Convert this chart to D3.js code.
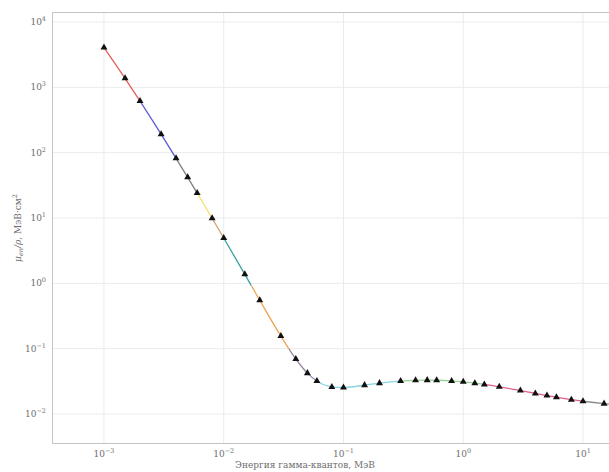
<!DOCTYPE html>
<html>
<head>
<meta charset="utf-8">
<script src="https://cdn.jsdelivr.net/npm/d3@7"></script>
<style>
  html, body { margin: 0; padding: 0; background: #fff; }
  svg { display: block; }
  text { font-family: "DejaVu Serif", "Liberation Serif", serif; fill: #6e6e6e; }
</style>
</head>
<body>
<svg id="chart" width="609" height="472"></svg>
<script>
// Photon energy, MeV
const energy = [0.001, 0.0015, 0.002, 0.003, 0.004, 0.005, 0.006, 0.008, 0.01, 0.015,
  0.02, 0.03, 0.04, 0.05, 0.06, 0.08, 0.1, 0.15, 0.2, 0.3, 0.4, 0.5, 0.6, 0.8, 1.0,
  1.25, 1.5, 2.0, 3.0, 4.0, 5.0, 6.0, 8.0, 10.0, 15.0, 20.0];
// Coefficient values
const coef = [4065, 1372, 615.2, 191.7, 81.91, 41.88, 24.05, 9.915, 4.944, 1.374,
  0.5503, 0.1557, 0.06947, 0.04223, 0.0319, 0.02597, 0.02546, 0.02764, 0.02967, 0.03192, 0.03279,
  0.03299, 0.03284, 0.03206, 0.03103, 0.02965, 0.02833, 0.02608, 0.02281, 0.02066, 0.01915,
  0.01806, 0.01658, 0.01566, 0.01441, 0.01382];
// Coloured curve pieces (energy bounds) and their colours
const segBounds = [0.001, 0.002, 0.004, 0.006, 0.008, 0.01, 0.017, 0.035, 0.06, 0.3, 1.5, 10, 20];
const segColors = ["#e25a5a", "#5a5ad8", "#808080", "#efe070", "#d4a070", "#3aa0a0",
  "#f0a050", "#9a88a8", "#88d4e4", "#94d494", "#e0608a", "#8a8a8a"];
const xTicks = [0.001, 0.01, 0.1, 1, 10];
const xTickExp = ["−3", "−2", "−1", "0", "1"];
const yTicks = [10000, 1000, 100, 10, 1, 0.1, 0.01];
const yTickExp = ["4", "3", "2", "1", "0", "−1", "−2"];

const svg = d3.select("#chart");
const L = 52, T = 12, B = 443, R = 671;

const x = d3.scaleLog().domain([Math.pow(10, -3.434), Math.pow(10, 1.735)]).range([L, R]);
const y = d3.scaleLog().domain([Math.pow(10, -2.444), Math.pow(10, 4.153)]).range([B, T]);

// grid
const g = svg.append("g");
g.selectAll(".gx").data(xTicks).enter().append("line")
  .attr("x1", d => x(d)).attr("x2", d => x(d)).attr("y1", T).attr("y2", B)
  .attr("stroke", "#ebebeb").attr("stroke-width", 1);
g.selectAll(".gy").data(yTicks).enter().append("line")
  .attr("x1", L).attr("x2", R).attr("y1", d => y(d)).attr("y2", d => y(d))
  .attr("stroke", "#ebebeb").attr("stroke-width", 1);

// frame
svg.append("line").attr("x1", L).attr("x2", R).attr("y1", T + 0.5).attr("y2", T + 0.5).attr("stroke", "#c4c4c4");
svg.append("line").attr("x1", L).attr("x2", R).attr("y1", B + 0.5).attr("y2", B + 0.5).attr("stroke", "#c4c4c4");
svg.append("line").attr("x1", L + 0.5).attr("x2", L + 0.5).attr("y1", T).attr("y2", B).attr("stroke", "#c4c4c4");

// axes labels (ticks)
const xl = svg.selectAll(".xt").data(xTicks).enter().append("text")
  .attr("x", d => x(d)).attr("y", 457).attr("text-anchor", "middle").attr("font-size", 9);
xl.append("tspan").text("10");
xl.append("tspan").attr("dy", -4).attr("font-size", 6.5).text((d, i) => xTickExp[i]);

const yl = svg.selectAll(".yt").data(yTicks).enter().append("text")
  .attr("x", 46).attr("y", d => y(d) + 3).attr("text-anchor", "end").attr("font-size", 9);
yl.append("tspan").text("10");
yl.append("tspan").attr("dy", -4).attr("font-size", 6.5).text((d, i) => yTickExp[i]);

// curve
const pts = energy.map((e, i) => [e, coef[i]]);
const line = d3.line().x(d => x(d[0])).y(d => y(d[1])).curve(d3.curveMonotoneX);
const defs = svg.append("defs");
segColors.forEach((c, i) => {
  const a = x(segBounds[i]), b = x(segBounds[i + 1]);
  defs.append("clipPath").attr("id", "seg" + i).append("rect")
    .attr("x", a).attr("y", 0).attr("width", b - a).attr("height", 472);
  svg.append("path").attr("d", line(pts)).attr("fill", "none")
    .attr("stroke", c).attr("stroke-width", 1.3)
    .attr("clip-path", "url(#seg" + i + ")");
});

// markers
svg.selectAll(".m").data(pts).enter().append("path")
  .attr("d", d3.symbol().type(d3.symbolTriangle).size(21))
  .attr("transform", d => `translate(${x(d[0])},${y(d[1])})`)
  .attr("fill", "#111");

// axis titles
svg.append("text").attr("x", 305).attr("y", 468).attr("text-anchor", "middle").attr("font-size", 9)
  .text("Энергия гамма-квантов, МэВ");
const yt = svg.append("text").attr("transform", "translate(21,228) rotate(-90)")
  .attr("text-anchor", "middle").attr("font-size", 9);
yt.append("tspan").attr("font-style", "italic").text("μ");
yt.append("tspan").attr("dy", 2).attr("font-size", 6.5).attr("font-style", "italic").text("en");
yt.append("tspan").attr("dy", -2).attr("font-style", "italic").text("/ρ");
yt.append("tspan").text(", МэВ·см");
yt.append("tspan").attr("dy", -4).attr("font-size", 6.5).text("2");
</script>
</body>
</html>
